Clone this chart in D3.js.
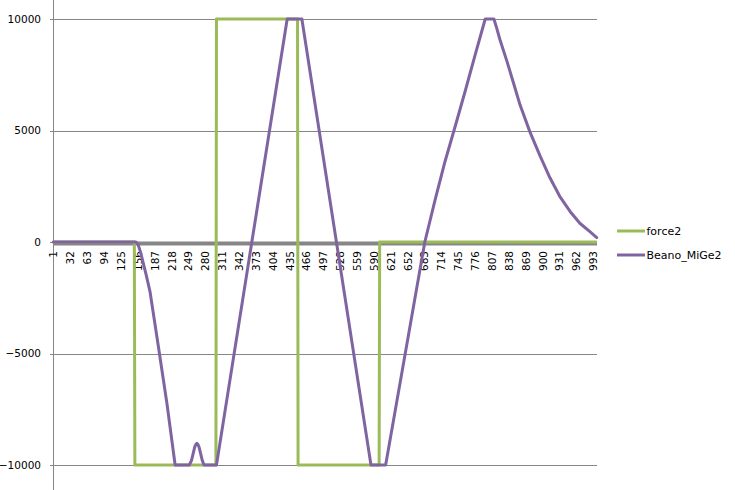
<!DOCTYPE html>
<html>
<head>
<meta charset="utf-8">
<script src="https://cdn.jsdelivr.net/npm/d3@7/dist/d3.min.js"></script>
<style>
  html, body { margin: 0; padding: 0; background: #fff; }
  svg { display: block; }
  text { font-family: "DejaVu Sans", Verdana, sans-serif; fill: #000; }
</style>
</head>
<body>
<svg id="chart" width="735" height="490"></svg>
<script>
// ---- data ----
const categoryCount = 1000;
const xTickLabels = [1, 32, 63, 94, 125, 156, 187, 218, 249, 280, 311, 342, 373, 404, 435, 466, 497, 528, 559, 590, 621, 652, 683, 714, 745, 776, 807, 838, 869, 900, 931, 962, 993];
const yTickValues = [-10000, -5000, 0, 5000, 10000];
const seriesNames = ["force2", "Beano_MiGe2"];

const force2Idx = [1, 150, 151, 300, 301, 450, 451, 600, 601, 1000];
const force2Val = [0, 0, -10000, -10000, 10000, 10000, -10000, -10000, 0, 0];

const beanoIdx = [1, 153, 157, 161, 166, 172, 179, 194, 210, 225, 251, 255, 258, 261, 263, 265, 267, 269, 272, 275, 278, 301, 431, 458, 585, 612, 648, 684, 703, 721, 740, 758, 776, 795, 811, 816, 822, 835, 847, 859, 877, 896, 914, 932, 951, 969, 988, 1000];
const beanoVal = [0, 0, -120, -420, -900, -1500, -2250, -4650, -7250, -10000, -10000, -9800, -9500, -9200, -9080, -9030, -9080, -9200, -9500, -9800, -10000, -10000, 10000, 10000, -10000, -10000, -5000, 0, 1900, 3600, 5200, 6750, 8350, 10000, 10000, 9600, 9080, 8100, 7130, 6150, 4950, 3850, 2880, 2050, 1370, 840, 450, 200];

const colors = { force2: "#9BBB59", beano: "#8064A2", grid: "#868686" };

// ---- layout ----
const svg = d3.select("#chart");
const x = d3.scaleLinear().domain([0.5, categoryCount + 0.5]).range([53, 597]);
const y = d3.scaleLinear().domain([-10000, 10000]).range([465, 19]);

// gridlines + y tick labels
const yAxis = d3.axisLeft(y).tickValues(yTickValues).tickSize(-(597 - 53)).tickSizeOuter(0).tickPadding(12).tickFormat(d3.format("d"));
const gy = svg.append("g").attr("transform", "translate(53,0)").call(yAxis);
gy.select(".domain").remove();
gy.selectAll(".tick line").attr("stroke", colors.grid).attr("x1", -3).attr("shape-rendering", "crispEdges");
gy.selectAll(".tick text").attr("font-size", "10.5px").attr("font-family", "DejaVu Sans, sans-serif").attr("fill", "#000");

// vertical axis line
svg.append("line").attr("x1", 53.5).attr("x2", 53.5).attr("y1", 0).attr("y2", 490)
  .attr("stroke", colors.grid).attr("stroke-width", 1);

// thick category axis line at zero
svg.append("line").attr("x1", 53).attr("x2", 597).attr("y1", y(0) + 1.5).attr("y2", y(0) + 1.5)
  .attr("stroke", colors.grid).attr("stroke-width", 4);

// x labels (rotated)
svg.append("g").selectAll("text").data(xTickLabels).join("text")
  .attr("transform", d => `translate(${x(d) + 0.5},251) rotate(-90)`)
  .attr("text-anchor", "end")
  .attr("dy", "0.35em")
  .attr("font-size", "10.5px")
  .text(d => d);

// lines
const line = d3.line().x(d => x(d[0])).y(d => y(d[1]));
const force2 = force2Idx.map((d, i) => [d, force2Val[i]]);
const beano = beanoIdx.map((d, i) => [d, beanoVal[i]]);

svg.append("path").datum(force2).attr("d", line)
  .attr("fill", "none").attr("stroke", colors.force2).attr("stroke-width", 3)
  .attr("stroke-linejoin", "round");

svg.append("path").datum(beano).attr("d", line)
  .attr("fill", "none").attr("stroke", colors.beano).attr("stroke-width", 3)
  .attr("stroke-linejoin", "round").attr("stroke-linecap", "round");

// legend
const legend = svg.append("g");
const legendItems = [
  { name: seriesNames[0], color: colors.force2, y: 231 },
  { name: seriesNames[1], color: colors.beano, y: 255 }
];
legendItems.forEach(it => {
  legend.append("line").attr("x1", 617).attr("x2", 645).attr("y1", it.y).attr("y2", it.y)
    .attr("stroke", it.color).attr("stroke-width", 3);
  legend.append("text").attr("x", 646.5).attr("y", it.y).attr("dy", "0.35em")
    .attr("font-size", "11px").text(it.name);
});
</script>
</body>
</html>
